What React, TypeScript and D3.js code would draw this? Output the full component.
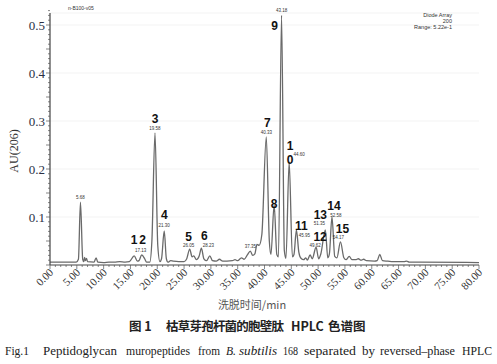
import React from "react";
import * as d3 from "d3";

// chromatogram trace: [time (min), AU]
const traceTimes = [0,4.9,5.3,5.68,6.1,6.3,6.45,6.6,6.8,7.0,8.2,8.6,8.9,10,11,12,13,14,14.8,15.7,16.3,16.6,17.1,17.7,18.0,18.6,19.0,19.58,20.1,20.5,20.8,21.3,21.7,22.0,22.5,23,24,25,25.5,26.05,26.5,26.8,27.3,27.8,28.23,28.7,29.2,29.8,30.3,31,31.6,32.2,33,34,34.5,35,35.7,36.2,36.8,37.35,37.8,38.2,38.6,39.0,39.5,40.33,40.9,41.2,41.8,42.3,42.6,43.18,43.7,44.0,44.6,45.2,45.5,45.95,46.4,46.8,47.3,47.7,48.0,48.5,48.9,49.62,50.1,50.5,51.35,51.8,52.1,52.58,53.1,53.5,54.17,54.8,55.2,55.8,56.3,57,57.5,58,58.5,59,60.5,61.0,61.5,62,63,64,65,66,66.5,67,68,69,80];
const traceValues = [0.006,0.006,0.012,0.131,0.012,0.007,0.016,0.009,0.014,0.007,0.006,0.015,0.006,0.005,0.006,0.006,0.007,0.006,0.007,0.019,0.008,0.009,0.021,0.012,0.006,0.006,0.05,0.275,0.04,0.007,0.013,0.071,0.013,0.006,0.009,0.008,0.007,0.007,0.013,0.033,0.017,0.019,0.011,0.018,0.035,0.013,0.009,0.019,0.009,0.008,0.012,0.008,0.008,0.009,0.011,0.009,0.015,0.012,0.021,0.029,0.02,0.023,0.043,0.041,0.063,0.267,0.05,0.022,0.125,0.022,0.017,0.52,0.03,0.014,0.215,0.017,0.022,0.073,0.027,0.014,0.011,0.015,0.01,0.021,0.013,0.037,0.013,0.023,0.073,0.015,0.023,0.1,0.018,0.015,0.048,0.015,0.011,0.018,0.011,0.011,0.013,0.01,0.012,0.009,0.008,0.009,0.022,0.009,0.008,0.007,0.007,0.007,0.008,0.006,0.006,0.006,0.005];

const yTicks = [0.1, 0.2, 0.3, 0.4, 0.5];
const xTicks = d3.range(0, 81, 5);

// peak annotations
const peakNames = ["1", "2", "3", "4", "5", "6", "7", "8", "9", "1", "11", "12", "13", "14", "15"];
const peakTimes = [15.7, 17.1, 19.58, 21.3, 26.05, 28.23, 40.33, 41.8, 43.18, 44.6, 45.95, 49.62, 51.35, 52.58, 54.17];
const peakHeights = [0.019, 0.021, 0.275, 0.071, 0.033, 0.035, 0.267, 0.125, 0.52, 0.215, 0.073, 0.037, 0.073, 0.1, 0.048];
const retentionLabels = ["", "17.13", "19.58", "21.30", "26.05", "28.23", "40.33", "", "43.18", "44.60", "45.95", "49.62", "51.35", "52.58", "54.17"];
const extraTimes = [5.68, 37.35];
const extraLabels = ["5.68", "37.35"];
const extraHeights = [0.131, 0.029];

// caption words
const captionWords = ["Fig.1", "Peptidoglycan", "muropeptides", "from", "B.", "subtilis", "168", "separated", "by", "reversed\u2013phase", "HPLC"];
const captionItalic = [false, false, false, false, true, true, false, false, false, false, false];

// layout offsets (px) for labels: [nameDx, nameDy, timeDx, timeDy]
const labelOffsets = [
  [0, -12, 0, 0], [1, -11, -1, -3], [0, -10, 0, -3], [0, -12, 0, -4],
  [-1, -8, -1, -2], [3, -8, 7, -1], [1, -10, 0, -3], [0, 3, 0, 0],
  [-7, 15, 0, -3], [1, -12, 10, -6], [5, 0, 8, 7], [4, -6, -1, 0],
  [-5, -11, -6, -5], [2, -7, 4, 0], [2, -9, -2, -3],
];
const captionX = [5, 43, 126, 198, 226, 239, 283, 304, 362, 380, 462];
const captionW = [24, 74, 64, 22, 10, 38, 15, 52, 13, 75, 30];

const W = 497, H = 364;
const x = d3.scaleLinear().domain([0, 80]).range([50, 479]);
const y = d3.scaleLinear().domain([0, 0.5]).range([265, 25]);

export default function App() {
  const pts: [number, number][] = traceTimes.map((t, i) => [t, traceValues[i]]);
  const line = d3.line<[number, number]>().x(d => x(d[0])).y(d => y(d[1])).curve(d3.curveMonotoneX);
  const yMinor = d3.range(0, 0.531, 0.01);
  const xMinor = d3.range(0, 80.1, 1);
  const serif = "'Liberation Serif', 'DejaVu Serif', serif";
  const sans = "'Liberation Sans', Arial, sans-serif";
  const cjk = "'Noto Sans CJK SC', sans-serif";
  return (
    <svg width={W} height={H} style={{ position: "fixed", left: 0, top: 0, background: "#fff" }}>
      <rect x={0} y={0} width={W} height={H} fill="#fff" />
      {/* faint grid */}
      {yTicks.map(v => (
        <line key={"g" + v} x1={x(0)} x2={x(80)} y1={y(v)} y2={y(v)} stroke="#f3f3f3" strokeWidth={1} />
      ))}
      <line x1={x(0)} x2={x(80)} y1={13} y2={13} stroke="#f3f3f3" />
      {/* trace */}
      <path d={line(pts) || ""} fill="none" stroke="#6a6a6a" strokeWidth={1.3} strokeLinejoin="round" />
      {/* y axis */}
      <line x1={50} x2={50} y1={13} y2={265} stroke="#444" strokeWidth={1.2} />
      {yMinor.map((v, i) => (
        <line key={"ym" + i} x1={50 - (i % 5 === 0 ? 4 : 2)} x2={50} y1={y(v)} y2={y(v)} stroke="#555" strokeWidth={0.7} />
      ))}
      {yTicks.map(v => (
        <text key={"yt" + v} x={45} y={y(v) + 4.5} textAnchor="end" fontFamily={serif} fontSize={13} fill="#2a2f45">
          {v.toFixed(1)}
        </text>
      ))}
      <text transform="translate(18,151) rotate(-90)" textAnchor="middle" fontFamily={serif} fontSize={12} fill="#333">AU(206)</text>
      {/* x axis */}
      <line x1={x(0)} x2={x(80)} y1={265} y2={265} stroke="#444" strokeWidth={1.2} />
      {xMinor.map((v, i) => (
        <line key={"xm" + i} x1={x(v)} x2={x(v)} y1={265} y2={265 + (i % 5 === 0 ? 4 : 2)} stroke="#555" strokeWidth={0.7} />
      ))}
      {xTicks.map(v => (
        <text key={"xt" + v} transform={`translate(${x(v) + 4},${273}) rotate(-45)`} textAnchor="end" fontFamily={serif} fontSize={11} fill="#333">
          {v.toFixed(2)}
        </text>
      ))}
      {/* header texts */}
      <text x={68} y={10} fontFamily={sans} fontSize={5} fill="#333">n-B100-v05</text>
      <text x={452} y={17} textAnchor="end" fontFamily={sans} fontSize={5.5} fill="#333">Diode Array</text>
      <text x={452} y={23} textAnchor="end" fontFamily={sans} fontSize={5.5} fill="#333">200</text>
      <text x={452} y={29} textAnchor="end" fontFamily={sans} fontSize={5.5} fill="#333">Range: 5.22e-1</text>
      {/* peak labels */}
      {peakNames.map((n, i) => {
        const px = x(peakTimes[i]);
        const py = y(peakHeights[i]);
        const o = labelOffsets[i];
        return (
          <g key={"p" + i}>
            <text x={px + o[0]} y={py + o[1]} textAnchor="middle" fontFamily={sans} fontWeight="bold" fontSize={12} fill="#111">{n}</text>
            {retentionLabels[i] && (
              <text x={px + o[2]} y={py + o[3]} textAnchor="middle" fontFamily={sans} fontSize={4.5} fill="#333">{retentionLabels[i]}</text>
            )}
          </g>
        );
      })}
      <text x={x(44.6) + 1} y={y(0.215) + 2} textAnchor="middle" fontFamily={sans} fontWeight="bold" fontSize={12} fill="#111">0</text>
      {extraTimes.map((t, i) => (
        <text key={"e" + i} x={x(t)} y={y(extraHeights[i]) - 3} textAnchor="middle" fontFamily={sans} fontSize={4.5} fill="#333">{extraLabels[i]}</text>
      ))}
      {/* captions */}
      <text x={252} y={309} textAnchor="middle" fontFamily={cjk} fontSize={11} fill="#555">洗脱时间/min</text>
      <text y={331} fontFamily={cjk} fontWeight="bold" fontSize={12.5} fill="#222">
        <tspan x={129}>图 1</tspan>
        <tspan x={166} textLength={118} lengthAdjust="spacing">枯草芽孢杆菌的胞壁肽</tspan>
        <tspan x={291}>HPLC</tspan>
        <tspan x={328}>色谱图</tspan>
      </text>
      {captionWords.map((w, i) => (
        <text key={"c" + i} x={captionX[i]} y={355} textLength={captionW[i]} lengthAdjust="spacingAndGlyphs"
          fontFamily={serif} fontSize={12.5} fill="#222" fontStyle={captionItalic[i] ? "italic" : "normal"}>{w}</text>
      ))}
    </svg>
  );
}
